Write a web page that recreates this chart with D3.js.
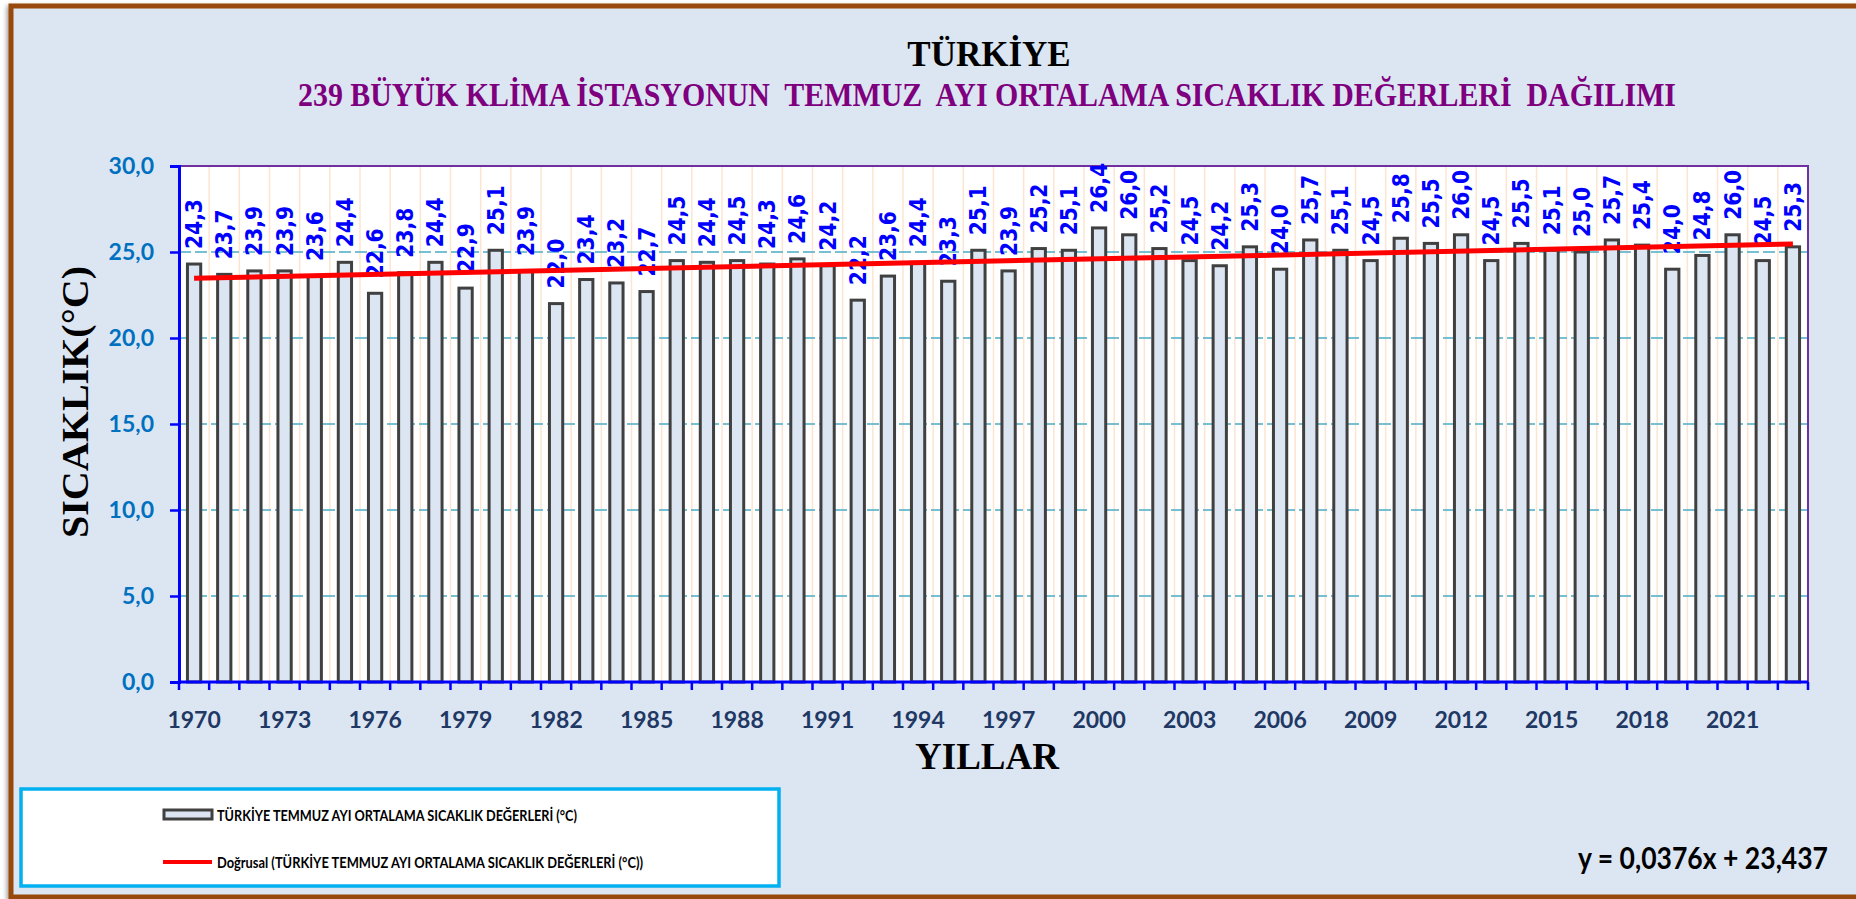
<!DOCTYPE html>
<html><head><meta charset="utf-8">
<script src="https://cdn.jsdelivr.net/npm/d3@7"></script>
<style>body{margin:0;background:#fff;overflow:hidden} svg{display:block} text{white-space:pre}</style>
</head><body>
<svg id="c" width="1856" height="899"></svg>
<script>
// ---- data ----
const years = [1970,1971,1972,1973,1974,1975,1976,1977,1978,1979,1980,1981,1982,1983,1984,1985,1986,1987,1988,1989,1990,1991,1992,1993,1994,1995,1996,1997,1998,1999,2000,2001,2002,2003,2004,2005,2006,2007,2008,2009,2010,2011,2012,2013,2014,2015,2016,2017,2018,2019,2020,2021,2022,2023];
const values = [24.3,23.7,23.9,23.9,23.6,24.4,22.6,23.8,24.4,22.9,25.1,23.9,22.0,23.4,23.2,22.7,24.5,24.4,24.5,24.3,24.6,24.2,22.2,23.6,24.4,23.3,25.1,23.9,25.2,25.1,26.4,26.0,25.2,24.5,24.2,25.3,24.0,25.7,25.1,24.5,25.8,25.5,26.0,24.5,25.5,25.1,25.0,25.7,25.4,24.0,24.8,26.0,24.5,25.3];
const yTicks = [0,5,10,15,20,25,30];
const xLabelYears = [1970,1973,1976,1979,1982,1985,1988,1991,1994,1997,2000,2003,2006,2009,2012,2015,2018,2021];
const trendSlope = 0.0376, trendIntercept = 23.437;
const title = "TÜRKİYE";
const subtitle = "239 BÜYÜK KLİMA İSTASYONUN  TEMMUZ  AYI ORTALAMA SICAKLIK DEĞERLERİ  DAĞILIMI";
const yTitle = "SICAKLIK(°C)";
const xTitle = "YILLAR";
const legendBar = "TÜRKİYE TEMMUZ AYI ORTALAMA SICAKLIK DEĞERLERİ (°C)";
const legendLine = "Doğrusal (TÜRKİYE TEMMUZ AYI ORTALAMA SICAKLIK DEĞERLERİ (°C))";
const equation = "y = 0,0376x + 23,437";

// ---- layout ----
const L = 179, R = 1808, T = 166, B = 682;
const svg = d3.select("#c");
const fmt = d => d.toFixed(1).replace(".", ",");

const defs = svg.append("defs");
const f = defs.append("filter").attr("id","sh").attr("x","-5%").attr("y","-5%").attr("width","110%").attr("height","110%");
f.append("feDropShadow").attr("dx",-2).attr("dy",2).attr("stdDeviation",2).attr("flood-color","#000").attr("flood-opacity",0.35);

svg.append("rect").attr("width",1856).attr("height",899).attr("fill","#fff");
svg.append("rect").attr("x",11).attr("y",6).attr("width",1900).attr("height",891)
  .attr("fill","#dce6f2").attr("stroke","#984807").attr("stroke-width",5).attr("filter","url(#sh)");

const x = d3.scaleBand().domain(years).range([L, R]);
const y = d3.scaleLinear().domain([0, 30]).range([B, T]);
const bw = x.bandwidth();
const barW = bw * 0.44;

// plot area
svg.append("rect").attr("x",L).attr("y",T).attr("width",R-L).attr("height",B-T).attr("fill","#fff");

// vertical grid (category boundaries)
svg.append("g").selectAll("line").data(years.slice(1)).join("line")
  .attr("x1", d => x(d)).attr("x2", d => x(d)).attr("y1", T).attr("y2", B)
  .attr("stroke","#fde4d0").attr("stroke-width",1.5);

// horizontal grid
svg.append("g").selectAll("line").data(yTicks.filter(t => t > 0 && t < 30)).join("line")
  .attr("x1", L).attr("x2", R).attr("y1", d => y(d)).attr("y2", d => y(d))
  .attr("stroke","#4bacc6").attr("stroke-width",1.6).attr("stroke-dasharray","12,4");

// plot border top/right
svg.append("path").attr("d", `M${L},${T}H${R}V${B}`).attr("fill","none").attr("stroke","#7030a0").attr("stroke-width",2);

// bars
const data = years.map((yr, i) => ({yr, v: values[i]}));
svg.append("g").selectAll("rect").data(data).join("rect")
  .attr("x", d => x(d.yr) + (bw - barW) / 2).attr("width", barW)
  .attr("y", d => y(d.v)).attr("height", d => y(0) - y(d.v))
  .attr("fill","#dce6f2").attr("stroke","#404040").attr("stroke-width",3);

// data labels
svg.append("g").selectAll("text").data(data).join("text")
  .attr("transform", d => `translate(${x(d.yr) + bw/2},${y(d.v) - 15}) rotate(-90)`)
  .attr("text-anchor","start").attr("dominant-baseline","central")
  .attr("font-family","'DejaVu Sans'").attr("font-weight","bold").attr("font-size",23)
  .attr("textLength",50).attr("lengthAdjust","spacingAndGlyphs")
  .attr("fill","#0000ff").text(d => fmt(d.v));

// trend line
const trend = data.map((d, i) => ({yr: d.yr, v: trendSlope * (i + 1) + trendIntercept}));
svg.append("path").datum([trend[0], trend[trend.length-1]])
  .attr("d", d3.line().x(d => x(d.yr) + bw/2).y(d => y(d.v)))
  .attr("stroke","#ff0000").attr("stroke-width",5).attr("fill","none");

// y axis
const ya = svg.append("g").attr("transform",`translate(${L},0)`)
  .call(d3.axisLeft(y).tickValues(yTicks).tickSize(9).tickPadding(16).tickFormat(fmt));
ya.select(".domain").attr("stroke","#0000ff").attr("stroke-width",3);
ya.selectAll(".tick line").attr("stroke","#0000ff").attr("stroke-width",2.5);
ya.selectAll(".tick text").attr("fill","#0070c0").attr("font-family","Lato").attr("font-weight","bold").attr("font-size",23);

// x axis
svg.append("line").attr("x1",L).attr("x2",R).attr("y1",B).attr("y2",B).attr("stroke","#0000ff").attr("stroke-width",3);
const tickPos = years.map(d => x(d)).concat([R]);
svg.append("g").selectAll("line").data(tickPos).join("line")
  .attr("x1", d => d).attr("x2", d => d).attr("y1", B).attr("y2", B + 8)
  .attr("stroke","#0000ff").attr("stroke-width",2.5);
svg.append("g").selectAll("text").data(xLabelYears).join("text")
  .attr("x", d => x(d) + bw/2).attr("y", 728).attr("text-anchor","middle")
  .attr("font-family","Lato").attr("font-weight","bold").attr("font-size",23)
  .attr("fill","#1f3864").text(d => d);

// titles
svg.append("text").attr("x",989).attr("y",66).attr("text-anchor","middle")
  .attr("font-family","'Liberation Serif'").attr("font-weight","bold").attr("font-size",35)
  .attr("fill","#000").text(title);
svg.append("text").attr("x",298).attr("y",106)
  .attr("font-family","'Liberation Serif'").attr("font-weight","bold").attr("font-size",33)
  .attr("textLength",1378).attr("lengthAdjust","spacingAndGlyphs")
  .attr("fill","#7f007f").text(subtitle);
svg.append("text").attr("transform","translate(88,402) rotate(-90)").attr("text-anchor","middle")
  .attr("font-family","'Liberation Serif'").attr("font-weight","bold").attr("font-size",38)
  .attr("textLength",272).attr("lengthAdjust","spacingAndGlyphs")
  .attr("fill","#000").text(yTitle);
svg.append("text").attr("x",987).attr("y",769).attr("text-anchor","middle")
  .attr("font-family","'Liberation Serif'").attr("font-weight","bold").attr("font-size",37)
  .attr("fill","#000").text(xTitle);

// legend
svg.append("rect").attr("x",21).attr("y",789).attr("width",758).attr("height",97)
  .attr("fill","#fff").attr("stroke","#00b0f0").attr("stroke-width",3.5);
svg.append("rect").attr("x",164).attr("y",810).attr("width",48).attr("height",9)
  .attr("fill","#dce6f2").attr("stroke","#404040").attr("stroke-width",3);
svg.append("text").attr("x",217).attr("y",821)
  .attr("font-family","Lato").attr("font-weight","bold").attr("font-size",15)
  .attr("textLength",360).attr("lengthAdjust","spacingAndGlyphs").attr("fill","#000").text(legendBar);
svg.append("line").attr("x1",163).attr("x2",212).attr("y1",862).attr("y2",862)
  .attr("stroke","#ff0000").attr("stroke-width",4);
svg.append("text").attr("x",217).attr("y",868)
  .attr("font-family","Lato").attr("font-weight","bold").attr("font-size",15)
  .attr("textLength",426).attr("lengthAdjust","spacingAndGlyphs").attr("fill","#000").text(legendLine);

// equation
svg.append("text").attr("x",1578).attr("y",869)
  .attr("font-family","Lato").attr("font-weight","bold").attr("font-size",30)
  .attr("textLength",250).attr("lengthAdjust","spacingAndGlyphs").attr("fill","#000").text(equation);
</script>
</body></html>
